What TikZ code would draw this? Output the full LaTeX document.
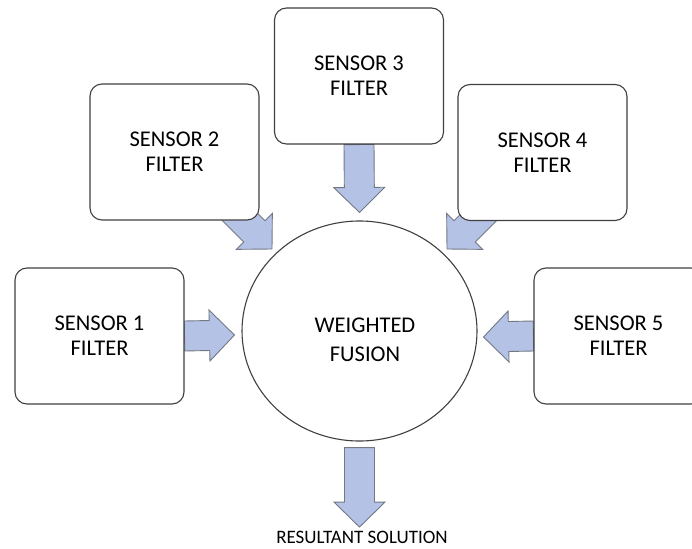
\documentclass[tikz,border=0pt]{standalone}
\usepackage{fontspec}
\setmainfont{Carlito}
\usetikzlibrary{calc,shapes.geometric}
\pgfdeclarelayer{background}
\pgfsetlayers{background,main}
\definecolor{arrowfill}{RGB}{180,194,230}
\definecolor{arrowline}{RGB}{115,120,132}
\definecolor{boxline}{RGB}{64,64,64}
\tikzset{
  filterbox/.style={draw=boxline, line width=1.1pt, fill=white, rounded corners=12pt,
    minimum width=169pt, minimum height=136pt, inner sep=0pt, align=center,
    font=\fontsize{22.5}{25}\selectfont},
  fusion/.style={ellipse, draw=boxline, line width=1.1pt, fill=white,
    minimum width=235pt, minimum height=220pt, inner sep=0pt},
  bigtext/.style={align=center, inner sep=0pt, font=\fontsize{22.5}{29}\selectfont},
  smalltext/.style={inner sep=0pt, font=\fontsize{19}{22}\selectfont},
  barrow/.style={draw=arrowline, line width=0.9pt, fill=arrowfill, line join=miter}
}
\newcommand\blockarrow[2]{%
  \coordinate (ba-h) at ($(#2)!25pt!(#1)$);
  \draw[barrow] ($(#1)!15pt!90:(#2)$) -- ($(ba-h)!15pt!90:(#2)$) -- ($(ba-h)!25.5pt!90:(#2)$)
    -- (#2) -- ($(ba-h)!25.5pt!-90:(#2)$) -- ($(ba-h)!15pt!-90:(#2)$) -- ($(#1)!15pt!-90:(#2)$) -- cycle;}
\begin{document}
\begin{tikzpicture}[x=1pt,y=-1pt]
\useasboundingbox (0,0) rectangle (692,548);
\node[filterbox] (s1) at (99.5,336) {SENSOR 1\\FILTER};
\node[filterbox] (s2) at (174.5,152) {SENSOR 2\\FILTER};
\node[filterbox] (s3) at (359,76) {SENSOR 3\\FILTER};
\node[filterbox] (s4) at (542.5,152.5) {SENSOR 4\\FILTER};
\node[filterbox] (s5) at (618.5,336) {SENSOR 5\\FILTER};
\node[fusion] (fus) at (359.5,331) {};
\node[bigtext] (fust) at (365,340) {WEIGHTED\\FUSION};
\node[smalltext] (res) at (362,537) {RESULTANT SOLUTION};
\coordinate (t1) at ($(fus.west)+(-7,4)$);
\coordinate (t2) at (272,249);
\coordinate (t3) at ($(fus.north)+(0,-8)$);
\coordinate (t4) at (447,249);
\coordinate (t5) at ($(fus.east)+(6,6)$);
\coordinate (b2) at ($(t2)+(-50,-50)$);
\coordinate (b4) at ($(t4)+(50,-50)$);
\coordinate (o1) at ($(fus.south)+(0,6)$);
\coordinate (o2) at ($(fus.south |- res.north)+(0,-3.5)$);
\begin{pgfonlayer}{background}
\fill[white] (0,0) rectangle (692,548);
\blockarrow{s1.east}{t1}
\blockarrow{b2}{t2}
\blockarrow{s3.south}{t3}
\blockarrow{b4}{t4}
\blockarrow{s5.west}{t5}
\blockarrow{o1}{o2}
\end{pgfonlayer}
\end{tikzpicture}
\end{document}
